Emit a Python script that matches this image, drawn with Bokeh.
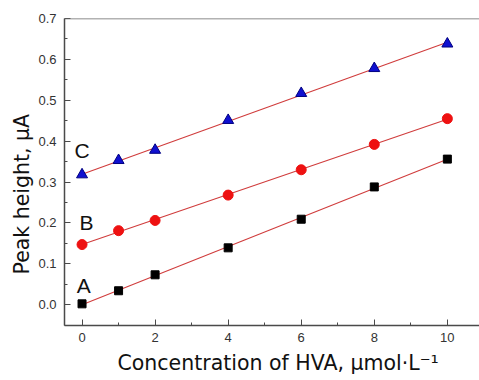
import numpy as np
from bokeh.plotting import figure
from bokeh.models import Range1d, Span, Label, FixedTicker, PrintfTickFormatter, Title
from bokeh.embed import file_html
from bokeh.resources import INLINE

# Data
conc = [0, 1, 2, 4, 6, 8, 10]
series_a = [0.002, 0.034, 0.073, 0.139, 0.209, 0.288, 0.356]
series_b = [0.147, 0.181, 0.206, 0.268, 0.330, 0.392, 0.455]
series_c = [0.318, 0.353, 0.378, 0.451, 0.517, 0.578, 0.638]
series_names = ["A", "B", "C"]
x_ticks = [0, 2, 4, 6, 8, 10]
y_ticks = [0.0, 0.1, 0.2, 0.3, 0.4, 0.5, 0.6, 0.7]
x_title = "Concentration of HVA, μmol·L⁻¹"
y_title = "Peak height, μA"

FONT = "Liberation Sans"
TFONT = "DejaVu Sans"

p = figure(width=479, height=380, output_backend="svg", toolbar_location=None,
           x_range=Range1d(-0.48, 10.88), y_range=Range1d(-0.051, 0.7),
           min_border_left=64, min_border_right=0, min_border_top=18,
           min_border_bottom=55)
p.outline_line_color = None
p.grid.visible = False
p.background_fill_color = "white"
p.border_fill_color = "white"

for ax in (p.xaxis[0], p.yaxis[0]):
    ax.axis_line_color = "#4a4a4a"
    ax.axis_line_width = 1.5
    ax.major_tick_line_color = "#4a4a4a"
    ax.minor_tick_line_color = "#4a4a4a"
    ax.major_tick_in = 6
    ax.major_tick_out = 0
    ax.minor_tick_in = 3
    ax.minor_tick_out = 0
    ax.major_label_text_font = FONT
    ax.major_label_text_font_size = "13px"
    ax.major_label_text_color = "#333333"
    ax.major_label_standoff = 8
p.xaxis.major_label_standoff = 7

p.xaxis.ticker = FixedTicker(ticks=x_ticks, minor_ticks=[1, 3, 5, 7, 9])
p.yaxis.ticker = FixedTicker(ticks=y_ticks,
                             minor_ticks=[-0.05, 0.05, 0.15, 0.25, 0.35, 0.45, 0.55, 0.65])
p.yaxis.formatter = PrintfTickFormatter(format="%.1f")

p.add_layout(Span(location=0.7, dimension="width", line_color="#666666", line_width=1.5))

xs = np.array(conc, dtype=float)
line_x = np.array([xs.min(), xs.max()])
for ys in (series_a, series_b, series_c):
    k, b = np.polyfit(xs, np.array(ys), 1)
    p.line(line_x, k * line_x + b, line_color="#d03c3c", line_width=1.1)

p.scatter(conc, series_a, marker="square", size=8, fill_color="black", line_color="black")
p.scatter(conc, series_b, marker="circle", size=10, fill_color="#ee1111", line_color="#ee1111")
p.scatter(conc, series_c, marker="triangle", size=11, fill_color="#1010d0", line_color="#000080")

label_pos = {"A": (0.05, 0.048), "B": (0.12, 0.2), "C": (0.0, 0.376)}
for name in series_names:
    lx, ly = label_pos[name]
    p.add_layout(Label(x=lx, y=ly, text=name, text_font=FONT, text_font_size="21px",
                       text_align="center", text_baseline="middle", text_color="#111111"))

p.add_layout(Title(text=x_title, align="left", offset=53, text_font=TFONT,
                   text_font_size="20.5px", text_font_style="normal",
                   text_color="#111111", standoff=8), "below")
p.add_layout(Title(text=y_title, align="left", offset=51, text_font=TFONT,
                   text_font_size="20.5px", text_font_style="normal",
                   text_color="#111111", standoff=4), "left")

open("out.html", "w").write(file_html(p, INLINE))
